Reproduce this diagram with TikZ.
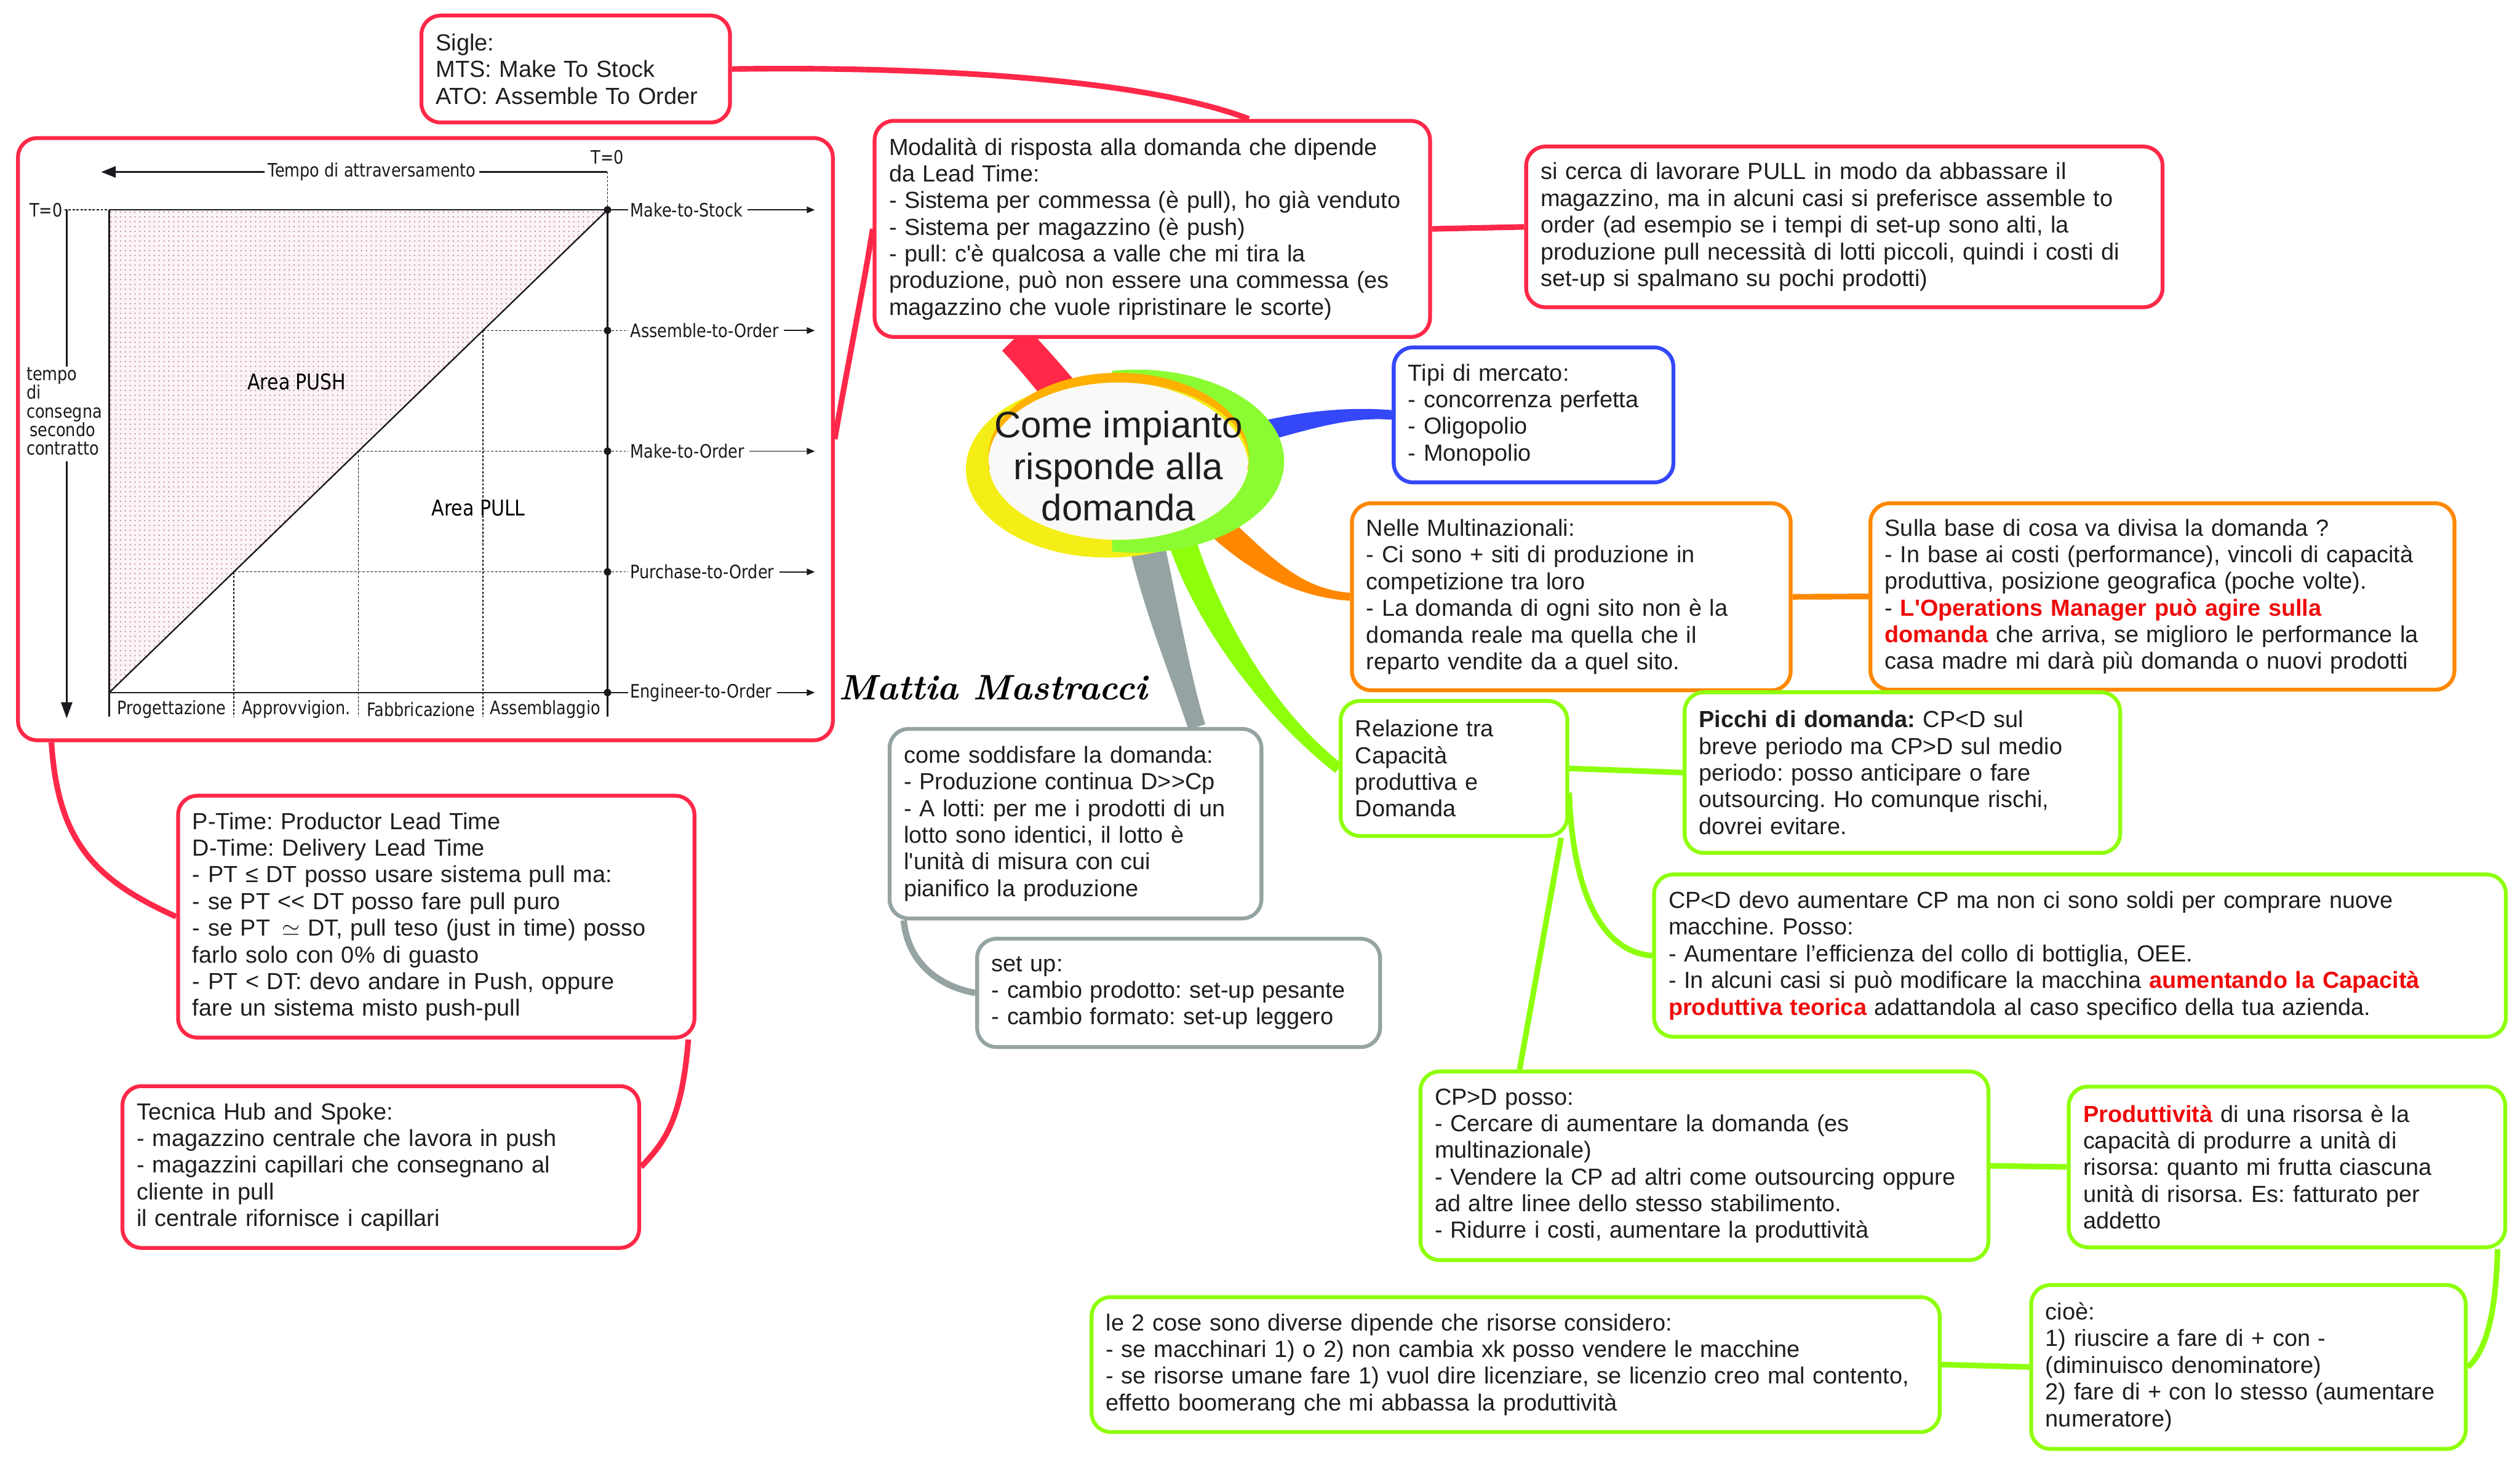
\documentclass[tikz,border=0pt]{standalone}
\usepackage{fontspec}
\usepackage{xcolor}
\usetikzlibrary{calc,positioning,shapes.geometric,arrows.meta,patterns}
\newfontfamily\mapfont{Liberation Sans}[Ligatures=TeXOff]
\newfontfamily\chartfont{DejaVu Sans}[Ligatures=TeXOff,FakeStretch=0.85]
\definecolor{mapred}{RGB}{255,40,72}
\definecolor{mapblue}{RGB}{52,72,250}
\definecolor{maporange}{RGB}{255,136,0}
\definecolor{mapgreen}{RGB}{142,255,10}
\definecolor{mapgrey}{RGB}{150,163,163}
\definecolor{hotred}{RGB}{240,10,10}
\definecolor{ink}{RGB}{30,30,30}
\definecolor{chartink}{RGB}{25,25,30}
\definecolor{dotpink}{RGB}{200,140,160}
\definecolor{dottint}{RGB}{251,244,247}
\definecolor{hubfill}{RGB}{249,249,249}
\definecolor{ringorange}{RGB}{255,176,0}
\definecolor{ringyellow}{RGB}{244,238,22}
\definecolor{ringgreen}{RGB}{140,252,50}
\pgfdeclarelayer{background}
\pgfsetlayers{background,main}
\frenchspacing
\newcommand\redbf[1]{\textcolor{hotred}{\bfseries #1}}
% tapered branch: colour, start, control 1, control 2, end, half width at start, half width at end
\newcommand\mapbranch[7]{%
  \path #2 coordinate (b0) #3 coordinate (b1) #4 coordinate (b2) #5 coordinate (b3);
  \path ($(b0)!#6!90:(b1)$) coordinate (l0) ($(b0)!#6!-90:(b1)$) coordinate (r0)
        ($(b3)!#7!-90:(b2)$) coordinate (l3) ($(b3)!#7!90:(b2)$) coordinate (r3);
  \fill[#1] (l0) .. controls ($(b1)+(l0)-(b0)$) and ($(b2)+(l3)-(b3)$) .. (l3)
    -- (r3) .. controls ($(b2)+(r3)-(b3)$) and ($(b1)+(r0)-(b0)$) .. (r0) -- cycle;}
\tikzset{
  card/.style={
    draw=#1,
    fill=white,
    line width=2.4pt,
    rounded corners=12pt,
    anchor=north west,
    align=left,
    inner xsep=9pt,
    inner ysep=3pt,
    text=ink,
    font=\mapfont\fontsize{14.5pt}{16.6pt}\selectfont,
  },
  link/.style={draw=#1, line width=3.5pt},
  hub/.style={
    ellipse,
    fill=hubfill,
    minimum width=162pt,
    minimum height=98pt,
    inner sep=0pt,
  },
  hubtext/.style={align=center, text=ink, font=\mapfont\fontsize{23pt}{26pt}\selectfont},
  chartline/.style={draw=chartink, line width=0.9pt},
  chartdash/.style={draw=chartink, line width=0.6pt, dash pattern=on 1.5pt off 1pt},
  chartlabel/.style={text=chartink, inner sep=1pt, font=\chartfont\fontsize{11.5pt}{11.6pt}\selectfont},
  arealabel/.style={text=black, inner sep=1pt, font=\chartfont\fontsize{13.5pt}{15pt}\selectfont},
}
\begin{document}
\begin{tikzpicture}[x=1pt,y=-1pt]
  \useasboundingbox (0,0) rectangle (1568,921);

  % central topic
  \node[hub] (hub) at (696,287) {};

  % red cards
  \node[card=mapred, text width=174pt, minimum height=66.5pt] (sigle) at (261,8.5)
    {Sigle:\\MTS: Make To Stock\\ATO: Assemble To Order};
  \node[card=mapred, minimum width=507pt, minimum height=374.8pt] (chart) at (10,84.7) {};
  \node[card=mapred, text width=327.6pt, minimum height=134.5pt] (modal) at (543,74)
    {Modalità di risposta alla domanda che dipende\\da Lead Time:\\- Sistema per commessa (è pull), ho già venduto\\- Sistema per magazzino (è push)\\- pull: c'è qualcosa a valle che mi tira la\\produzione, può non essere una commessa (es\\magazzino che vuole ripristinare le scorte)};
  \node[card=mapred, text width=378pt, minimum height=100pt] (sicerca) at (948.4,90)
    {si cerca di lavorare PULL in modo da abbassare il\\magazzino, ma in alcuni casi si preferisce assemble to\\order (ad esempio se i tempi di set-up sono alti, la\\produzione pull necessità di lotti piccoli, quindi i costi di\\set-up si spalmano su pochi prodotti)};
  \node[card=mapred, text width=303.3pt, minimum height=150.5pt] (ptime) at (109.6,494)
    {P-Time: Productor Lead Time\\D-Time: Delivery Lead Time\\- PT ≤ DT posso usare sistema pull ma:\\- se PT << DT posso fare pull puro\\- se PT \,$\simeq$ DT, pull teso (just in time) posso\\farlo solo con 0\% di guasto\\- PT < DT: devo andare in Push, oppure\\fare un sistema misto push-pull};
  \node[card=mapred, text width=303.5pt, minimum height=100.7pt] (hubspoke) at (75,674.7)
    {Tecnica Hub and Spoke:\\- magazzino centrale che lavora in push\\- magazzini capillari che consegnano al\\cliente in pull\\il centrale rifornisce i capillari};

  % blue and orange cards
  \node[card=mapblue, text width=156pt, minimum height=84pt] (mercato) at (866,215)
    {Tipi di mercato:\\- concorrenza perfetta\\- Oligopolio\\- Monopolio};
  \node[card=maporange, text width=255pt, minimum height=116.4pt] (multi) at (840,312)
    {Nelle Multinazionali:\\- Ci sono + siti di produzione in\\competizione tra loro\\- La domanda di ogni sito non è la\\domanda reale ma quella che il\\reparto vendite da a quel sito.};
  \node[card=maporange, text width=345.4pt, minimum height=116pt] (divisa) at (1162.6,312)
    {Sulla base di cosa va divisa la domanda ?\\- In base ai costi (performance), vincoli di capacità\\produttiva, posizione geografica (poche volte).\\- \redbf{L'Operations Manager può agire sulla}\\\redbf{domanda} che arriva, se miglioro le performance la\\casa madre mi darà più domanda o nuovi prodotti};

  % green cards
  \node[card=mapgreen, text width=123pt, minimum height=84pt] (relaz) at (833,435)
    {Relazione tra\\Capacità\\produttiva e\\Domanda};
  \node[card=mapgreen, text width=253pt, minimum height=100pt] (picchi) at (1047,429.6)
    {\textbf{Picchi di domanda:} CP<D sul\\breve periodo ma CP>D sul medio\\periodo: posso anticipare o fare\\outsourcing. Ho comunque rischi,\\dovrei evitare.};
  \node[card=mapgreen, text width=512pt, minimum height=101pt] (cpless) at (1028,543)
    {CP<D devo aumentare CP ma non ci sono soldi per comprare nuove\\macchine. Posso:\\- Aumentare l’efficienza del collo di bottiglia, OEE.\\- In alcuni casi si può modificare la macchina \redbf{aumentando la Capacità}\\\redbf{produttiva teorica} adattandola al caso specifico della tua azienda.};
  \node[card=mapgreen, text width=335.4pt, minimum height=117.4pt] (cpmore) at (882.6,665.6)
    {CP>D posso:\\- Cercare di aumentare la domanda (es\\multinazionale)\\- Vendere la CP ad altri come outsourcing oppure\\ad altre linee dello stesso stabilimento.\\- Ridurre i costi, aumentare la produttività};
  \node[card=mapgreen, text width=253.6pt, minimum height=100pt] (prodtv) at (1286,675)
    {\redbf{Produttività} di una risorsa è la\\capacità di produrre a unità di\\risorsa: quanto mi frutta ciascuna\\unità di risorsa. Es: fatturato per\\addetto};
  \node[card=mapgreen, text width=252.4pt, minimum height=102pt] (cioe) at (1262.6,798.5)
    {cioè:\\1) riuscire a fare di + con -\\(diminuisco denominatore)\\2) fare di + con lo stesso (aumentare\\numeratore)};
  \node[card=mapgreen, text width=509.7pt, minimum height=84pt] (cose) at (678,806)
    {le 2 cose sono diverse dipende che risorse considero:\\- se macchinari 1) o 2) non cambia xk posso vendere le macchine\\- se risorse umane fare 1) vuol dire licenziare, se licenzio creo mal contento,\\effetto boomerang che mi abbassa la produttività};

  % grey cards
  \node[card=mapgrey, text width=213.4pt, minimum height=118pt] (soddisf) at (552.3,452.4)
    {come soddisfare la domanda:\\- Produzione continua D>>Cp\\- A lotti: per me i prodotti di un\\lotto sono identici, il lotto è\\l'unità di misura con cui\\pianifico la produzione};
  \node[card=mapgrey, text width=232.7pt, minimum height=67.4pt] (setup) at (606.8,583)
    {set up:\\- cambio prodotto: set-up pesante\\- cambio formato: set-up leggero};

  % ring round the central topic
  \fill[ringyellow, even odd rule] ($(hub.center)+(-7,5)$) ellipse (88 and 55) (hub.center) ellipse (81 and 49);
  \begin{scope}
    \clip (692,200) rectangle (820,370);
    \fill[ringgreen, even odd rule] ($(hub.center)+(11,0)$) ellipse (92 and 57) (hub.center) ellipse (81 and 49);
  \end{scope}
  \begin{scope}
    \clip (600,200) rectangle (790,292);
    \fill[ringorange, even odd rule] ($(hub.center)+(0,-3)$) ellipse (81 and 52) (hub.center) ellipse (81 and 49);
  \end{scope}
  \node[hubtext] (hubtxt) at ([yshift=-3pt]hub.center) {Come impianto\\risponde alla\\domanda};

  % push/pull chart
  \fill[dottint] (68,130.6) -- (378,130.6) -- (68,431) -- cycle;
  \fill[pattern=dots, pattern color=dotpink] (68,130.6) -- (378,130.6) -- (68,431) -- cycle;
  \draw[chartline] (68,130.6) -- (391,130.6);
  \draw[chartline] (68,431) -- (391,431);
  \draw[chartline] (68,130.6) -- (68,446);
  \draw[chartline] (378,130.6) -- (378,446);
  \draw[chartline] (68,431) -- (378,130.6);
  \draw[chartdash] (300.5,205.7) -- (391,205.7) (223,280.8) -- (391,280.8) (145.5,355.9) -- (391,355.9);
  \draw[chartdash] (300.5,205.7) -- (300.5,446) (223,280.8) -- (223,446) (145.5,355.9) -- (145.5,446);
  \foreach \lab [count=\k from 0] in {Make-to-Stock,Assemble-to-Order,Make-to-Order,Purchase-to-Order,Engineer-to-Order}{
    \fill[chartink] (378,130.6+75.1*\k) circle (2.3pt);
    \node[chartlabel, anchor=west] (level\k) at (391,130.6+75.1*\k) {\lab};
    \draw[chartline, line width=0.7pt, -{Triangle[width=4pt,length=5pt]}] ([xshift=2pt]level\k.east) -- (507,130.6+75.1*\k);
  }
  \node[chartlabel] (tzerotop) at (378,98) {T=0};
  \draw[chartdash] (378,107) -- (378,130.6);
  \node[chartlabel, inner sep=2pt] (thru) at (231.5,107) {Tempo di attraversamento};
  \draw[chartline] (378,107) -- (thru.east);
  \draw[chartline, -{Triangle[width=7pt,length=9pt]}] (thru.west) -- (63,107);
  \node[chartlabel] (tzeroleft) at (28.7,130.6) {T=0};
  \draw[chartdash] (tzeroleft.east) -- (68,130.6);
  \node[chartlabel, align=left] (delivery) at (40,256) {tempo\\di\\consegna\\\hspace*{2pt}secondo\\contratto};
  \draw[chartline] (41.5,130.6) -- (41.5,228);
  \draw[chartline, -{Triangle[width=7pt,length=10pt]}] (41.5,287) -- (41.5,447);
  \node[arealabel] (push) at (184.7,237.7) {Area PUSH};
  \node[arealabel] (pull) at (297.7,316) {Area PULL};
  \node[chartlabel] (phase1) at (106.8,441.5) {Progettazione};
  \node[chartlabel] (phase2) at (184.3,441.5) {Approvvigion.};
  \node[chartlabel] (phase3) at (261.8,441.5) {Fabbricazione};
  \node[chartlabel] (phase4) at (339.3,441.5) {Assemblaggio};

  % signature
  \node[text=black, font=\rmfamily\bfseries\itshape\fontsize{22pt}{24pt}\selectfont] (sign) at (618,428) {Mattia Mastracci};

  \begin{pgfonlayer}{background}
    \fill[white] (0,0) rectangle (1568,921);
    % main branches
    \mapbranch{mapred}{($(hub.center)+(-35,-42)$)}{(651,233)}{(640,220)}{([xshift=-86pt]modal.south)}{11pt}{10.5pt}
    \mapbranch{mapblue}{($(hub.center)+(80,-16)$)}{(810,262)}{(838,256)}{(mercato.west)}{6.5pt}{3pt}
    \mapbranch{maporange}{($(hub.center)+(60,38)$)}{(785,352)}{(808,369)}{(multi.west)}{8pt}{2.5pt}
    \mapbranch{mapgreen}{($(hub.center)+(38,45)$)}{(750,385)}{(790,445)}{(relaz.west)}{8.5pt}{3.5pt}
    \mapbranch{mapgrey}{($(hub.center)+(16,45)$)}{(722,378)}{(736,425)}{([xshift=75.5pt]soddisf.north)}{11pt}{5.5pt}
    % child links
    \draw[link=mapred] ([xshift=60pt]modal.north) .. controls (720,52) and (600,41) .. (sigle.east);
    \draw[link=mapred] (modal.east) -- (sicerca.west);
    \draw[link=mapred] (modal.west) .. controls (538,175) and (525,240) .. (chart.east);
    \draw[link=mapred] ([xshift=22pt]chart.south west) .. controls (36,525) and (60,548) .. (ptime.west);
    \draw[link=mapred] ([xshift=-5pt]ptime.south east) .. controls (424,700) and (412,712) .. (hubspoke.east);
    \draw[link=maporange] (multi.east) -- (divisa.west);
    \draw[link=mapgreen] (relaz.east) -- (picchi.west);
    \draw[link=mapgreen] ([yshift=-15pt]relaz.east) .. controls (978,545) and (992,592) .. (cpless.west);
    \draw[link=mapgreen] ([xshift=-5pt]relaz.south east) -- ([xshift=-115pt]cpmore.north);
    \draw[link=mapgreen] (cpmore.east) -- (prodtv.west);
    \draw[link=mapgreen] ([xshift=-6pt]prodtv.south east) .. controls (1553,820) and (1546,842) .. (cioe.east);
    \draw[link=mapgreen] (cioe.west) -- (cose.east);
    \draw[link=mapgrey, line width=4pt] ([xshift=10pt]soddisf.south west) .. controls (565,600) and (585,614) .. (setup.west);
  \end{pgfonlayer}
\end{tikzpicture}
\end{document}
